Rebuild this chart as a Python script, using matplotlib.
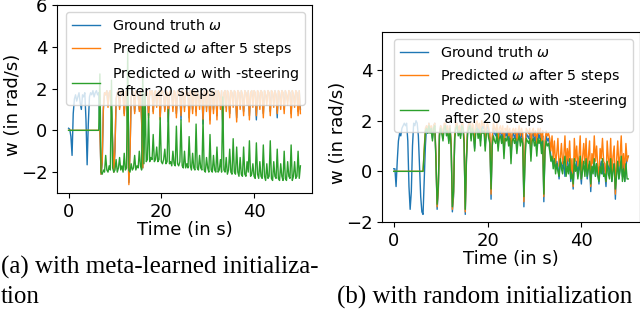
import numpy as np
import matplotlib
matplotlib.use("Agg")
import matplotlib.pyplot as plt

# time stamps (s), 0.25 s apart, 0 .. 50
time_s = np.arange(201) * 0.25

# ---------------- panel (a): meta-learned initialization ----------------
gt_a_rows = [
    [0.1, 0.05, -0.3, -1.2], [0.8, 1.5, 1.7, 1.4], [1.6, 1.8, 1.3, 1.0], [1.7, 1.6, 1.8, 0.5],
    [-1.65, 0.3, 1.6, 1.8], [1.7, 1.9, 1.6, 1.8], [1.9, 1.7, 1.8, 0.0], [-2.1, -1.6, 1.0, 1.8],
    [1.7, 1.9, 1.2, 1.8], [1.9, 1.0, -0.5, -2.0], [-1.0, 1.5, 1.8, 1.9], [1.1, 1.8, 1.9, 1.7],
    [0.8, 1.8, 1.9, 0.2], [-2.5, -1.0, 1.6, 1.9], [1.8, 0.9, 1.9, 1.8], [1.7, 1.0, 1.9, 0.5],
    [-1.8, -0.5, 1.7, 1.9], [1.8, 0.7, 1.9, 1.7], [1.9, 0.9, 1.8, 1.9], [1.2, 1.8, 1.9, 0.6],
    [1.8, 1.9, 1.7, 1.0], [1.9, 1.8, 0.4, 1.8], [1.9, 1.7, 1.1, 1.9], [1.8, 0.8, 1.9, 1.8],
    [1.7, 0.5, 1.9, 1.8], [1.1, 1.9, 1.7, 1.8], [0.6, 1.9, 1.8, 1.0], [1.9, 1.8, 0.9, 1.9],
    [1.7, 1.2, 1.9, 1.8], [0.3, 1.9, 1.8, 1.1], [1.9, 1.7, 0.5, 1.8], [1.9, 1.0, 1.8, 1.9],
    [0.7, 1.9, 1.8, 1.2], [1.9, 0.1, 1.8, 1.9], [1.1, 1.9, 1.8, 0.8], [1.9, 1.8, 1.3, 1.9],
    [1.8, 0.6, 1.9, 1.8], [1.2, 1.9, 1.7, 0.9], [1.9, 1.8, 1.4, 1.9], [0.7, 1.8, 1.9, 1.3],
    [1.9, 1.8, 0.5, 1.9], [1.8, 1.2, 1.9, 1.8], [0.8, 1.9, 1.7, 1.4], [1.9, 1.8, 0.9, 1.9],
    [1.8, 1.3, 1.9, 1.7], [0.6, 1.9, 1.8, 1.2], [1.9, 1.8, 1.0, 1.9], [1.7, 1.4, 1.9, 1.8],
    [0.8, 1.9, 1.7, 1.3], [1.9, 1.8, 0.9, 1.9], [1.0],
]
pred5_a_rows = [
    [0.0, 0.0, 0.0, 0.0], [0.0, 0.0, 0.0, 0.0], [0.0, 0.0, 0.0, 0.0], [0.0, 0.0, 0.0, 0.0],
    [0.0, 0.0, 0.0, 0.0], [0.0, 0.0, 0.0, 0.0], [0.0, 0.0, 0.0, 0.0], [-2.1, -1.5, 1.1, 1.8],
    [1.7, 1.9, 1.1, 1.8], [1.9, 0.9, -0.6, -2.0], [-0.9, 1.5, 1.8, 1.9], [1.0, 1.8, 1.9, 1.7],
    [0.7, 1.8, 1.9, 0.1], [-2.6, -1.1, 1.6, 1.9], [1.8, 0.8, 1.9, 1.8], [1.7, 0.9, 1.9, 0.4],
    [-1.8, -0.6, 1.7, 1.9], [1.8, 0.6, 1.9, 1.7], [1.9, 0.8, 1.8, 1.9], [1.1, 1.8, 1.9, 0.5],
    [1.8, 1.9, 1.7, 0.9], [1.9, 1.8, 0.6, 1.8], [1.9, 1.7, 0.9, 1.9], [1.8, 0.6, 1.9, 1.8],
    [1.7, 0.7, 1.9, 1.8], [0.9, 1.9, 1.7, 1.8], [0.4, 1.9, 1.8, 0.8], [1.9, 1.8, 0.7, 1.9],
    [1.7, 1.0, 1.9, 1.8], [0.5, 1.9, 1.8, 0.9], [1.9, 1.7, 0.3, 1.8], [1.9, 0.8, 1.8, 1.9],
    [0.5, 1.9, 1.8, 1.0], [1.9, 0.3, 1.8, 1.9], [0.9, 1.9, 1.8, 0.6], [1.9, 1.8, 1.1, 1.9],
    [1.8, 0.4, 1.9, 1.8], [1.0, 1.9, 1.7, 0.7], [1.9, 1.8, 1.2, 1.9], [0.5, 1.8, 1.9, 1.1],
    [1.9, 1.8, 0.7, 1.9], [1.8, 1.0, 1.9, 1.8], [0.6, 1.9, 1.7, 1.2], [1.9, 1.8, 0.7, 1.9],
    [1.8, 1.1, 1.9, 1.7], [0.8, 1.9, 1.8, 1.0], [1.9, 1.8, 0.8, 1.9], [1.7, 1.2, 1.9, 1.8],
    [0.6, 1.9, 1.7, 1.1], [1.9, 1.8, 0.7, 1.9], [0.8],
]
steer_a_rows = [
    [0.0, 0.0, 0.0, 0.0], [0.0, 0.0, 0.0, 0.0], [0.0, 0.0, 0.0, 0.0], [0.0, 0.0, 0.0, 0.0],
    [0.0, 0.0, 0.0, 0.0], [0.0, 0.0, 0.0, 0.0], [0.0, 0.0, 0.0, 2.7], [-2.0, -2.1, -1.9, -2.0],
    [-1.2, -1.9, -2.0, -1.7], [-1.9, 2.4, -1.8, -2.0], [-1.9, -1.4, -2.0, -1.8], [-1.3, -1.9, -1.7, -2.0],
    [-1.1, -1.9, -1.8, 3.8], [-1.9, -2.0, -1.6, -1.9], [-1.8, -1.2, -1.9, -1.7], [-1.8, -1.0, -1.7, -1.9],
    [2.8, -1.6, 1.8, -1.5], [-1.4, 0.8, -1.5, -1.3], [-1.4, -0.2, -1.5, -1.4], [-0.8, -1.5, -1.4, 0.6],
    [-1.5, -1.6, -1.4, -0.9], [-1.6, -1.5, 1.0, -1.6], [-1.5, -1.7, -1.0, -1.6], [-1.7, 0.2, -1.6, -1.7],
    [-1.5, 0.5, -1.7, -1.8], [-1.0, -1.8, -1.6, -1.8], [-0.3, -1.7, -1.9, -1.1], [-1.8, -1.9, 0.3, -1.8],
    [-1.9, -1.2, -1.8, -1.9], [0.5, -1.9, -2.0, -1.3], [-1.8, -2.0, -0.2, -1.9], [-2.0, -1.2, -1.9, -2.0],
    [-0.8, -2.0, -1.9, -1.4], [-2.0, 1.6, -1.9, -2.0], [-1.3, -2.1, -1.9, -0.9], [-2.0, -2.1, -0.4, -2.0],
    [-2.1, -0.8, -2.0, -2.2], [-1.3, -2.1, -2.2, -0.8], [-2.1, -2.2, -1.5, -2.0], [-0.5, -2.2, -2.1, -1.6],
    [-2.2, -2.3, -0.6, -2.1], [-2.3, -1.5, -2.2, -2.3], [-0.7, -2.2, -2.4, -1.6], [-2.3, -2.2, -0.5, -2.3],
    [-2.4, -1.5, -2.2, -2.3], [-0.9, -2.3, -2.4, -1.6], [-2.2, -2.4, -1.0, -2.3], [-2.4, -1.5, -2.2, -2.3],
    [-0.7, -2.4, -2.2, -1.5], [-2.3, -2.2, -1.0, -2.3], [-1.7],
]

# ---------------- panel (b): random initialization ----------------
gt_b_rows = [
    [0.1, 0.1, -0.6, 0.4], [1.2, 1.5, 1.4, 1.7], [1.8, 1.9, 1.8, 1.9], [1.2, -0.6, -1.5, -0.8],
    [1.0, 1.9, 1.8, 2.0], [1.9, 1.4, 0.2, -1.0], [-1.6, -1.7, -0.4, 1.0], [1.8, 1.5, 1.9, 1.6],
    [1.7, 1.3, 1.8, 1.9], [0.5, -1.5, -0.8, 1.5], [1.8, 1.6, 1.3, 1.8], [1.9, 1.5, 1.7, 1.2],
    [1.8, 1.0, -1.6, -1.0], [1.4, 1.8, 1.9, 1.5], [1.7, 1.4, 1.9, 1.8], [1.2, -1.7, 0.5, 1.6],
    [1.8, 1.9, 1.3, 1.8], [1.6, 0.9, 1.8, 1.9], [1.5, 1.8, 1.2, 1.9], [1.7, 1.8, 1.0, 1.7],
    [1.8, 1.5, 1.3, -1.1], [1.2, 1.7, 1.5, 1.4], [1.7, 1.0, 1.5, 1.6], [1.3, 1.6, 0.8, 1.5],
    [1.4, 1.6, 1.2, 1.5], [0.6, 1.4, 1.5, 1.3], [1.5, 1.0, 1.4, 1.6], [1.2, 1.5, 1.3, -1.4],
    [0.8, 1.5, 1.4, 1.3], [1.5, 0.7, 1.4, 1.5], [1.2, 1.4, 0.9, 1.5], [1.3, 1.5, 1.0, 1.4],
    [-1.2, 1.0, 1.4, 1.2], [1.3, 1.0, 0.6, 0.4], [0.3, 0.5, 0.1, 0.4], [0.2, -0.3, 0.4, 0.3],
    [0.1, 0.4, -0.2, 0.3], [0.5, 0.0, 0.3, -0.4], [0.2, -0.7, 0.3, 0.1], [0.4, -0.2, 0.3, 0.0],
    [-0.5, 0.3, 0.2, 0.0], [0.4, -0.3, 0.2, 0.3], [-0.8, 0.2, 0.0, 0.4], [-0.2, 0.3, 0.1, -0.5],
    [0.2, 0.4, -0.1, 0.3], [0.0, -0.6, 0.3, 0.2], [-0.1, 0.4, -0.4, 0.2], [0.3, -1.1, 0.1, 0.3],
    [-0.3, 0.2, 0.4, -0.2], [0.3, -0.4, 0.2, 0.5], [0.6],
]
pred5_b_rows = [
    [0.0, 0.0, 0.0, 0.0], [0.0, 0.0, 0.0, 0.0], [0.0, 0.0, 0.0, 0.0], [0.0, 0.0, 0.0, 0.0],
    [0.0, 0.0, 0.0, 0.0], [0.0, 0.0, 0.0, 0.0], [0.0, 0.0, 0.9, 1.7], [1.8, 1.6, 1.9, 1.7],
    [1.8, 1.4, 1.8, 1.9], [0.6, -1.4, -0.7, 1.5], [1.8, 1.7, 1.4, 1.9], [1.9, 1.6, 1.8, 1.3],
    [1.8, 1.1, -1.5, -0.9], [1.5, 1.9, 1.9, 1.6], [1.8, 1.5, 1.9, 1.9], [1.3, -1.6, 0.6, 1.7],
    [1.9, 1.9, 1.4, 1.9], [1.8, 1.1, 1.9, 2.0], [1.7, 1.9, 1.4, 2.0], [1.8, 1.9, 1.2, 1.8],
    [1.9, 1.7, 1.5, -0.9], [1.4, 1.9, 1.7, 1.6], [1.9, 1.2, 1.7, 1.8], [1.5, 1.8, 1.0, 1.7],
    [1.6, 1.8, 1.4, 1.7], [0.8, 1.6, 1.7, 1.5], [1.7, 1.2, 1.6, 1.8], [1.4, 1.7, 1.5, -1.2],
    [1.0, 1.7, 1.6, 1.5], [1.7, 0.9, 1.6, 1.7], [1.4, 1.6, 1.1, 1.7], [1.5, 1.7, 1.2, 1.6],
    [-1.0, 1.2, 1.6, 1.4], [1.5, 1.3, 0.8, 1.4], [0.5, 1.2, 0.3, 0.7], [1.3, 0.2, 0.5, 1.1],
    [0.3, 0.6, 1.4, 0.2], [0.9, 0.4, 1.2, 0.0], [0.5, -0.6, 1.3, 0.4], [1.0, 0.2, 0.6, 1.4],
    [-0.3, 0.5, 1.1, 0.3], [1.3, 0.0, 0.6, 1.2], [-0.6, 0.7, 0.3, 1.4], [0.4, 1.0, 0.2, -0.2],
    [0.9, 0.5, 1.3, 0.4], [0.3, -0.4, 1.2, 0.5], [0.2, 1.3, -0.2, 0.6], [1.0, -0.9, 0.4, 1.2],
    [0.2, 0.6, 1.4, 0.1], [0.7, 0.0, 1.1, 0.4], [0.6],
]
steer_b_rows = [
    [0.0, 0.0, 0.0, 0.0], [0.0, 0.0, 0.0, 0.0], [0.0, 0.0, 0.0, 0.0], [0.0, 0.0, 0.0, 0.0],
    [0.0, 0.0, 0.0, 0.0], [0.0, 0.0, 0.0, 0.0], [0.0, 0.0, 0.8, 1.6], [1.7, 1.5, 1.8, 1.5],
    [1.7, 1.2, 1.7, 1.8], [0.4, -1.3, -0.6, 1.4], [1.7, 1.5, 1.2, 1.7], [1.8, 1.4, 1.6, 1.1],
    [1.7, 0.9, -1.4, -0.8], [1.3, 1.7, 1.8, 1.4], [1.6, 1.3, 1.8, 1.7], [1.1, -1.5, 0.4, 1.5],
    [1.7, 1.8, 1.2, 1.7], [1.5, 0.8, 1.6, 1.7], [1.3, 1.6, 1.0, 1.7], [1.5, 1.6, 0.8, 1.5],
    [1.6, 1.3, 1.1, -0.7], [1.0, 1.4, 1.2, 1.1], [1.5, 0.8, 1.3, 1.4], [1.1, 1.4, 0.5, 1.3],
    [1.2, 1.4, 1.0, 1.3], [0.3, 1.2, 1.3, 1.1], [1.3, 0.7, 1.2, 1.4], [1.0, 1.3, 1.1, -1.0],
    [0.5, 1.3, 1.2, 1.1], [1.3, 0.4, 1.2, 1.3], [1.0, 1.2, 0.6, 1.3], [1.1, 1.3, 0.7, 1.2],
    [-0.9, 0.8, 1.2, 1.0], [1.1, 0.8, 0.4, 0.6], [0.1, 0.5, -0.1, 0.3], [0.0, -0.2, 0.5, 0.1],
    [-0.1, 0.3, 0.6, -0.2], [0.2, -0.1, 0.5, -0.3], [-0.1, -0.5, 0.5, 0.0], [0.2, -0.3, 0.1, 0.6],
    [-0.3, 0.0, 0.4, -0.2], [0.5, -0.2, 0.1, 0.4], [-0.5, 0.2, -0.1, 0.5], [-0.2, 0.3, -0.2, -0.4],
    [0.2, -0.1, 0.5, -0.2], [-0.1, -0.4, 0.4, -0.1], [-0.3, 0.5, -0.4, 0.0], [0.3, -0.7, -0.2, 0.4],
    [-0.3, 0.0, 0.6, -0.4], [0.1, -0.4, 0.3, -0.3], [-0.3],
]


def flat(rows):
    return np.array([v for r in rows for v in r])


labels = ["Ground truth $\\omega$",
          "Predicted $\\omega$ after 5 steps",
          "Predicted $\\omega$ with -steering\n after 20 steps"]
colors = ["#1f77b4", "#ff7f0e", "#2ca02c"]

fig = plt.figure(figsize=(6.4, 3.11), dpi=100)
W, H = 640.0, 311.0


def make_axes(x0, x1, ytop, ybot):
    return fig.add_axes([x0 / W, (H - ybot) / H, (x1 - x0) / W, (ybot - ytop) / H])


ax_a = make_axes(57, 312, 5, 193)
ax_b = make_axes(382, 640, 32, 222)

panels = [
    (ax_a, [flat(gt_a_rows), flat(pred5_a_rows), flat(steer_a_rows)], (-3, 6),
     [-2, 0, 2, 4, 6], (22 - 57) / 255.0),
    (ax_b, [flat(gt_b_rows), flat(pred5_b_rows), flat(steer_b_rows)], (-2, 5.5),
     [-2, 0, 2, 4], (347 - 382) / 258.0),
]

for ax, series, ylim, yticks, ylab_x in panels:
    for s, c, lab in zip(series, colors, labels):
        ax.plot(time_s, s, color=c, lw=1.0, label=lab)
    ax.set_xlim(-2.5, 52.5)
    ax.set_ylim(*ylim)
    ax.set_yticks(yticks)
    ax.set_xticks([0, 20, 40])
    ax.tick_params(labelsize=13)
    ax.set_xlabel("Time (in s)", fontsize=13, labelpad=0)
    ax.set_ylabel("w (in rad/s)", fontsize=13)
    ax.yaxis.set_label_coords(ylab_x, 0.47)
    ax.legend(loc="upper right", fontsize=10.3, framealpha=0.8)

serif = ["Liberation Serif", "DejaVu Serif"]
fig.text(1 / W, 1 - 267 / H, "(a) with meta-learned initializa-", family=serif,
         fontsize=18, va="center", ha="left")
fig.text(1 / W, 1 - 297 / H, "tion", family=serif, fontsize=18, va="center", ha="left")
fig.text(337 / W, 1 - 297 / H, "(b) with random initialization", family=serif,
         fontsize=18, va="center", ha="left")

fig.savefig("out.png", dpi=100)
